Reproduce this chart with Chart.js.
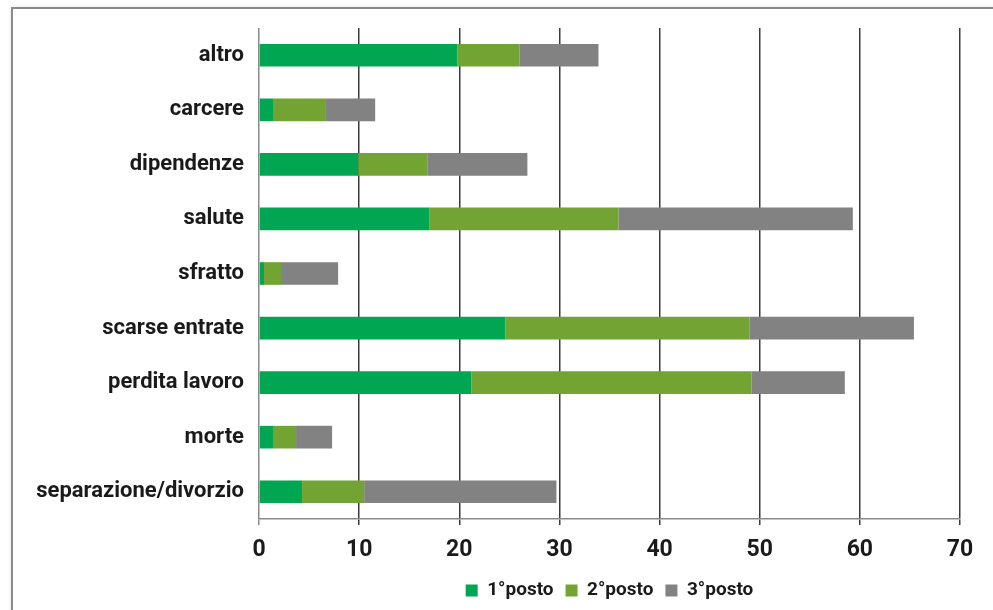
<!DOCTYPE html>
<html>
<head>
<meta charset="utf-8">
<script src="https://cdn.jsdelivr.net/npm/chart.js@4.4.0/dist/chart.umd.min.js"></script>
<style>
  body { margin: 0; background: #fff; overflow: hidden; }
  #wrap { position: relative; width: 993px; height: 610px; }
  #frame { position: absolute; left: 11px; top: 7px; width: 1000px; height: 700px;
           border: 2px solid #8a8a8a; box-shadow: 0 0 4px rgba(0,0,0,0.12); }
  canvas { position: absolute; left: 0; top: 0; }
</style>
</head>
<body>
<div id="wrap">
  <div id="frame"></div>
  <canvas id="chart" width="993" height="610"></canvas>
</div>
<script>
// categories, top to bottom
const categories = ["altro", "carcere", "dipendenze", "salute", "sfratto",
  "scarse entrate", "perdita lavoro", "morte", "separazione/divorzio"];

// values per rank
const primo   = [19.8, 1.4, 9.9, 17.0, 0.5, 24.6, 21.2, 1.4, 4.3];
const secondo = [6.2, 5.2, 6.9, 18.9, 1.7, 24.4, 28.0, 2.3, 6.2];
const terzo   = [7.9, 5.0, 10.0, 23.4, 5.7, 16.4, 9.3, 3.6, 19.2];

const seriesLabels = ["1°posto", "2°posto", "3°posto"];
const xTicks = [0, 10, 20, 30, 40, 50, 60, 70];

const FONT = "Roboto, 'DejaVu Sans', sans-serif";

let ctx = document.getElementById("chart").getContext("2d");

new Chart(ctx, {
  type: "bar",
  data: {
    labels: categories,
    datasets: [
      { label: seriesLabels[0], data: primo,   backgroundColor: "#00a651" },
      { label: seriesLabels[1], data: secondo, backgroundColor: "#73a433" },
      { label: seriesLabels[2], data: terzo,   backgroundColor: "#828282" }
    ]
  },
  options: {
    indexAxis: "y",
    responsive: false,
    animation: false,
    layout: { padding: { top: 28, right: 33, left: 0, bottom: 0 } },
    datasets: { bar: { barPercentage: 0.83, categoryPercentage: 0.5 } },
    scales: {
      x: {
        stacked: true,
        min: 0,
        max: 70,
        afterBuildTicks: (scale) => { scale.ticks = xTicks.map(v => ({ value: v })); },
        afterFit: (scale) => { scale.height = 50; },
        grid: {
          color: (c) => c.index === 0 ? "#8a8a8a" : "#3a3a3a",
          lineWidth: 1.5,
          tickLength: 6
        },
        border: { display: true, color: "#8a8a8a", width: 1.5 },
        ticks: {
          color: "#1a1a1a",
          padding: 11,
          font: { family: FONT, size: 23, weight: "bold" }
        }
      },
      y: {
        stacked: true,
        afterFit: (scale) => { scale.width = 259; },
        grid: { display: false },
        border: { display: false },
        ticks: {
          color: "#1a1a1a",
          padding: 7,
          font: { family: FONT, size: 22, weight: "bold" }
        }
      }
    },
    plugins: {
      legend: {
        position: "bottom",
        fullSize: false,
        labels: {
          boxWidth: 12,
          boxHeight: 12,
          padding: 12,
          color: "#1a1a1a",
          font: { family: FONT, size: 19, weight: "bold" }
        }
      },
      tooltip: { enabled: false }
    }
  }
});
</script>
</body>
</html>
